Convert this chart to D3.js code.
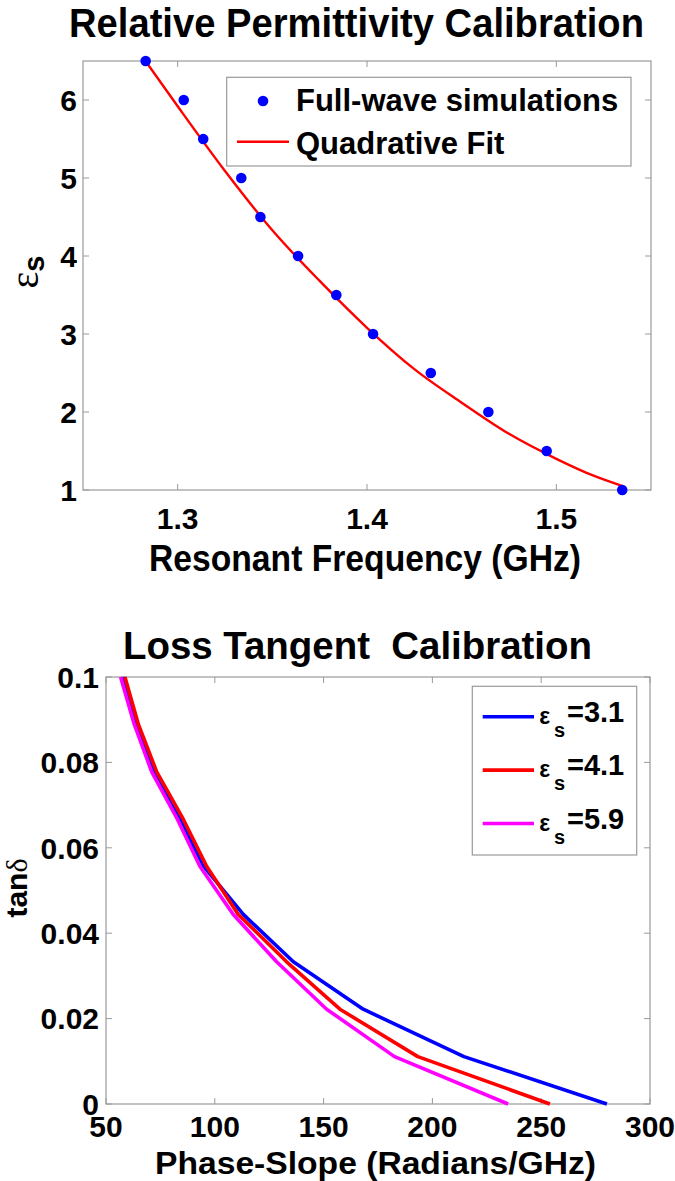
<!DOCTYPE html>
<html>
<head>
<meta charset="utf-8">
<script src="https://cdn.jsdelivr.net/npm/d3@7/dist/d3.min.js"></script>
<style>
  html, body { margin: 0; padding: 0; background: #fff; }
  svg { display: block; }
  text { font-family: "Liberation Sans", Arial, sans-serif; font-weight: bold; fill: #000; }
</style>
</head>
<body>
<svg id="chart" width="675" height="1181"></svg>
<script>
// ---------- Top chart data ----------
const freqSim = [1.2831, 1.3032, 1.3135, 1.3336, 1.3437, 1.3636, 1.3838, 1.4032, 1.4337, 1.4641, 1.4949, 1.5348];
const epsSim  = [6.5, 6.0, 5.5, 5.0, 4.5, 4.0, 3.5, 3.0, 2.5, 2.0, 1.5, 1.0];
const fitFreq = [1.283, 1.30, 1.325, 1.35, 1.375, 1.40, 1.425, 1.45, 1.475, 1.50, 1.52, 1.535];
const fitEps  = [6.50, 5.92, 5.09, 4.33, 3.68, 3.08, 2.55, 2.12, 1.72, 1.40, 1.18, 1.05];
const topXTicks = [1.3, 1.4, 1.5];
const topYTicks = [1, 2, 3, 4, 5, 6];

// ---------- Bottom chart data ----------
const lossTan  = [0.1, 0.0889, 0.0778, 0.0667, 0.0556, 0.0444, 0.0333, 0.0222, 0.0111, 0];
const slope31  = [57.8, 64.0, 72.2, 84.0, 95.0, 113.1, 136.1, 168.2, 214.5, 280.2];
const slope41  = [58.7, 64.9, 73.3, 85.5, 96.3, 110.8, 133.0, 157.5, 193.3, 254.0];
const slope59  = [56.7, 63.0, 71.0, 82.8, 93.2, 108.5, 128.4, 151.4, 182.6, 234.8];
const seriesNames  = ["3.1", "4.1", "5.9"];
const seriesColors = ["#0000ff", "#ff0000", "#ff00ff"];
const botXTicks = [50, 100, 150, 200, 250, 300];
const botYTicks = [0, 0.02, 0.04, 0.06, 0.08, 0.1];
const botYLabels = ["0", "0.02", "0.04", "0.06", "0.08", "0.1"];

const svg = d3.select("#chart");
const axisColor = "#9a9a9a";
const tickLen = 6;

function drawFrame(g, x, y, xTicks, yTicks, fmtX, fmtY, opts) {
  const [x0, x1] = x.range();
  const [y0, y1] = y.range(); // y0 bottom, y1 top
  g.append("rect").attr("x", x0).attr("y", y1).attr("width", x1 - x0).attr("height", y0 - y1)
    .attr("fill", "none").attr("stroke", axisColor).attr("stroke-width", 1.2);
  xTicks.forEach(t => {
    const px = x(t);
    g.append("line").attr("x1", px).attr("x2", px).attr("y1", y0).attr("y2", y0 - tickLen).attr("stroke", axisColor);
    g.append("line").attr("x1", px).attr("x2", px).attr("y1", y1).attr("y2", y1 + tickLen).attr("stroke", axisColor);
    g.append("text").attr("x", px).attr("y", y0 + opts.xLabelOffset)
      .attr("text-anchor", "middle").attr("font-size", opts.tickFont).text(fmtX(t));
  });
  yTicks.forEach((t, i) => {
    const py = y(t);
    g.append("line").attr("x1", x0).attr("x2", x0 + tickLen).attr("y1", py).attr("y2", py).attr("stroke", axisColor);
    g.append("line").attr("x1", x1).attr("x2", x1 - tickLen).attr("y1", py).attr("y2", py).attr("stroke", axisColor);
    g.append("text").attr("x", x0 - opts.yLabelGap).attr("y", py + opts.tickFont * 0.36)
      .attr("text-anchor", "end").attr("font-size", opts.tickFont).text(fmtY(t, i));
  });
}

// ================= TOP CHART =================
const gTop = svg.append("g");
const xTop = d3.scaleLinear().domain([1.25, 1.55]).range([83, 651]);
const yTop = d3.scaleLinear().domain([1, 6.5]).range([490, 61]);

drawFrame(gTop, xTop, yTop, topXTicks, topYTicks, d => d.toFixed(1), d => String(d),
  { xLabelOffset: 39, yLabelGap: 6, tickFont: 30 });

// fit line
const fitData = fitFreq.map((f, i) => [f, fitEps[i]]);
gTop.append("path").datum(fitData)
  .attr("d", d3.line().x(d => xTop(d[0])).y(d => yTop(d[1])).curve(d3.curveMonotoneX))
  .attr("fill", "none").attr("stroke", "#ff0000").attr("stroke-width", 2.4);

// simulation points
gTop.selectAll("circle.sim").data(freqSim.map((f, i) => [f, epsSim[i]])).enter()
  .append("circle").attr("class", "sim")
  .attr("cx", d => xTop(d[0])).attr("cy", d => yTop(d[1])).attr("r", 5.3)
  .attr("fill", "#0000ff");

// title
gTop.append("text").attr("x", 69).attr("y", 37).attr("font-size", 40)
  .attr("textLength", 575).attr("lengthAdjust", "spacingAndGlyphs")
  .text("Relative Permittivity Calibration");
// x label
gTop.append("text").attr("x", 149).attr("y", 571).attr("font-size", 36)
  .attr("textLength", 432).attr("lengthAdjust", "spacingAndGlyphs")
  .text("Resonant Frequency (GHz)");
// y label epsilon_s
const yl = gTop.append("text").attr("transform", "translate(38,272) rotate(-90)")
  .attr("text-anchor", "middle");
yl.append("tspan").attr("font-family", "'Liberation Serif', 'DejaVu Serif', serif")
  .attr("font-weight", "normal").attr("font-size", 40).text("ε");
yl.append("tspan").attr("font-size", 29).attr("dy", 6).text("s");

// legend
const lg = gTop.append("g");
lg.append("rect").attr("x", 226.7).attr("y", 77.3).attr("width", 404.3).attr("height", 88.7)
  .attr("fill", "#fff").attr("stroke", axisColor).attr("stroke-width", 1.2);
lg.append("circle").attr("cx", 263).attr("cy", 101).attr("r", 5.3).attr("fill", "#0000ff");
lg.append("text").attr("x", 296).attr("y", 111).attr("font-size", 31).text("Full-wave simulations");
lg.append("line").attr("x1", 237).attr("x2", 289).attr("y1", 141.7).attr("y2", 141.7)
  .attr("stroke", "#ff0000").attr("stroke-width", 2.4);
lg.append("text").attr("x", 296).attr("y", 154.3).attr("font-size", 31).text("Quadrative Fit");

// ================= BOTTOM CHART =================
const gBot = svg.append("g");
const xBot = d3.scaleLinear().domain([50, 300]).range([106, 650]);
const yBot = d3.scaleLinear().domain([0, 0.1]).range([1104, 677]);

drawFrame(gBot, xBot, yBot, botXTicks, botYTicks, d => String(d), (d, i) => botYLabels[i],
  { xLabelOffset: 33, yLabelGap: 7, tickFont: 30 });

const seriesData = [slope31, slope41, slope59];
const lineGen = d3.line().x(d => xBot(d[0])).y(d => yBot(d[1]));
seriesData.forEach((s, k) => {
  gBot.append("path").datum(s.map((v, i) => [v, lossTan[i]]))
    .attr("d", lineGen).attr("fill", "none")
    .attr("stroke", seriesColors[k]).attr("stroke-width", 3.6)
    .attr("stroke-linejoin", "round");
});

gBot.append("text").attr("x", 123).attr("y", 659).attr("font-size", 38)
  .attr("textLength", 469).attr("lengthAdjust", "spacingAndGlyphs")
  .attr("xml:space", "preserve").style("white-space", "pre")
  .text("Loss Tangent  Calibration");
gBot.append("text").attr("x", 155).attr("y", 1174).attr("font-size", 31)
  .attr("textLength", 441).attr("lengthAdjust", "spacingAndGlyphs")
  .text("Phase-Slope (Radians/GHz)");
const yl2 = gBot.append("text").attr("transform", "translate(27,888) rotate(-90)")
  .attr("text-anchor", "middle").attr("font-size", 30);
yl2.append("tspan").text("tan");
yl2.append("tspan").attr("font-family", "'Liberation Serif', 'DejaVu Serif', serif")
  .attr("font-weight", "normal").text("δ");

// legend
const lg2 = gBot.append("g");
lg2.append("rect").attr("x", 472.3).attr("y", 686.3).attr("width", 164.4).attr("height", 168.7)
  .attr("fill", "#fff").attr("stroke", axisColor).attr("stroke-width", 1.2);
seriesNames.forEach((name, k) => {
  const ly = 716.7 + k * 53.4;
  lg2.append("line").attr("x1", 482.7).attr("x2", 534).attr("y1", ly).attr("y2", ly)
    .attr("stroke", seriesColors[k]).attr("stroke-width", 3.6);
  lg2.append("text").attr("x", 539.3).attr("y", ly + 7.3)
    .attr("font-family", "'Liberation Serif', 'DejaVu Serif', serif")
    .attr("font-weight", "normal").attr("font-size", 23).text("ε");
  lg2.append("text").attr("x", 554).attr("y", ly + 20).attr("font-size", 20).text("s");
  lg2.append("text").attr("x", 567).attr("y", ly + 5).attr("font-size", 29).text("=" + name);
});
</script>
</body>
</html>
